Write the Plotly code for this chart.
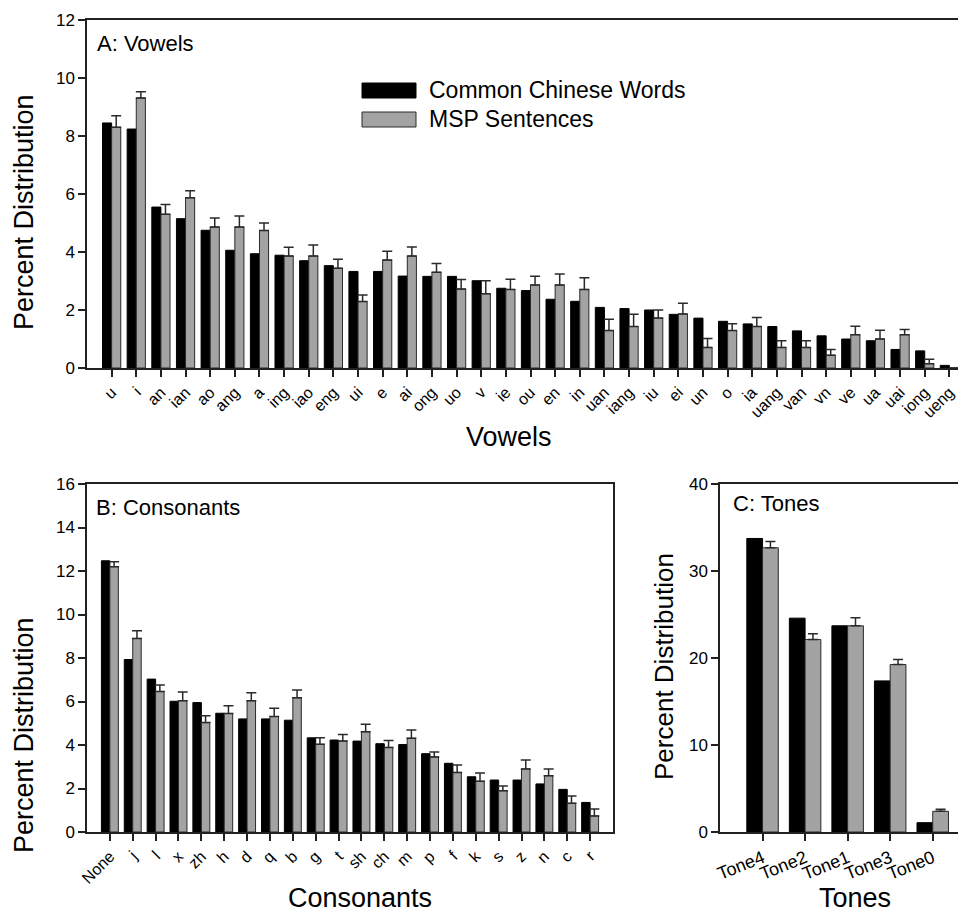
import plotly.graph_objects as go

# ---------------- data ----------------
vowels = ["u", "i", "an", "ian", "ao", "ang", "a", "ing", "iao", "eng", "ui", "e", "ai", "ong", "uo",
          "v", "ie", "ou", "en", "in", "uan", "iang", "iu", "ei", "un", "o", "ia", "uang", "van", "vn",
          "ve", "ua", "uai", "iong", "ueng"]
vowel_common = [8.45, 8.24, 5.55, 5.15, 4.75, 4.06, 3.94, 3.89, 3.70, 3.53, 3.33, 3.33, 3.17, 3.16, 3.16,
                3.01, 2.75, 2.67, 2.37, 2.30, 2.09, 2.05, 2.00, 1.85, 1.72, 1.61, 1.52, 1.43, 1.28, 1.11,
                1.00, 0.94, 0.64, 0.59, 0.09]
vowel_msp = [8.30, 9.31, 5.30, 5.87, 4.86, 4.86, 4.74, 3.86, 3.86, 3.44, 2.29, 3.72, 3.86, 3.30, 2.72,
             2.56, 2.71, 2.86, 2.86, 2.71, 1.29, 1.43, 1.72, 1.86, 0.71, 1.29, 1.43, 0.71, 0.71, 0.44,
             1.15, 1.00, 1.15, 0.15, 0.0]
vowel_msp_err = [0.40, 0.22, 0.34, 0.24, 0.31, 0.38, 0.26, 0.30, 0.38, 0.31, 0.23, 0.31, 0.31, 0.30, 0.33,
                 0.45, 0.35, 0.30, 0.38, 0.40, 0.39, 0.42, 0.28, 0.37, 0.31, 0.24, 0.31, 0.23, 0.23, 0.20,
                 0.29, 0.30, 0.18, 0.15, 0.0]

consonants = ["None", "j", "l", "x", "zh", "h", "d", "q", "b", "g", "t", "sh", "ch", "m", "p", "f",
              "k", "s", "z", "n", "c", "r"]
cons_common = [12.47, 7.93, 7.03, 6.01, 5.95, 5.46, 5.20, 5.20, 5.14, 4.33, 4.23, 4.18, 4.06, 4.02,
               3.60, 3.16, 2.54, 2.39, 2.39, 2.21, 1.96, 1.36]
cons_msp = [12.20, 8.90, 6.46, 6.04, 5.03, 5.45, 6.04, 5.31, 6.17, 4.03, 4.18, 4.61, 3.89, 4.31,
            3.45, 2.74, 2.33, 1.90, 2.90, 2.59, 1.32, 0.74]
cons_msp_err = [0.23, 0.35, 0.30, 0.40, 0.32, 0.36, 0.36, 0.38, 0.36, 0.30, 0.30, 0.34, 0.32, 0.38,
                0.23, 0.34, 0.38, 0.21, 0.41, 0.31, 0.34, 0.32]

tones = ["Tone4", "Tone2", "Tone1", "Tone3", "Tone0"]
tone_common = [33.74, 24.58, 23.70, 17.37, 1.07]
tone_msp = [32.67, 22.12, 23.70, 19.25, 2.38]
tone_msp_err = [0.73, 0.66, 0.92, 0.57, 0.23]

legend_labels = ["Common Chinese Words", "MSP Sentences"]

# ---------------- style ----------------
W, H = 966, 915
OFF = 8  # page body margin offsets the figure by this many pixels
FONT = "Arial, Liberation Sans, sans-serif"
BLACK = "#000000"
GREY = "#a3a3a3"
EDGE = "#2a2a2a"
AX = "#222222"


def px_x(p):
    return (p - OFF) / W


def px_y(p):
    return 1 - (p - OFF) / H


fig = go.Figure()


def add_pair(cats, common, msp, err, xa, ya):
    fig.add_trace(go.Bar(x=cats, y=common, marker=dict(color=BLACK, line=dict(color=BLACK, width=1)),
                         xaxis=xa, yaxis=ya, showlegend=False, name=legend_labels[0]))
    fig.add_trace(go.Bar(x=cats, y=msp, marker=dict(color=GREY, line=dict(color=EDGE, width=1)),
                         error_y=dict(type="data", symmetric=False, array=err,
                                      arrayminus=[0] * len(err), color=EDGE, thickness=1.5, width=5),
                         xaxis=xa, yaxis=ya, showlegend=False, name=legend_labels[1]))


add_pair(vowels, vowel_common, vowel_msp, vowel_msp_err, "x", "y")
add_pair(consonants, cons_common, cons_msp, cons_msp_err, "x2", "y2")
add_pair(tones, tone_common, tone_msp, tone_msp_err, "x3", "y3")

axis_common = dict(showline=True, linecolor=AX, linewidth=1.5, ticks="outside", ticklen=7,
                   tickwidth=1.5, tickcolor=AX, showgrid=False, zeroline=False, automargin=False,
                   tickfont=dict(family=FONT, size=17, color="black"))
xtick_font = dict(family=FONT, size=16, color="black")

fig.update_layout(
    width=W, height=H, margin=dict(l=0, r=0, t=0, b=0, pad=0), autosize=False,
    paper_bgcolor="white", plot_bgcolor="white",
    barmode="group", bargap=0.26, bargroupgap=0,
    font=dict(family=FONT, color="black"),
    xaxis=dict(axis_common, domain=[px_x(87), 1.0], anchor="y", type="category",
               categoryorder="array", categoryarray=vowels, range=[-1, 35.0],
               tickangle=-45, mirror=True, tickfont=xtick_font),
    yaxis=dict(axis_common, domain=[px_y(368), px_y(20)], anchor="x", range=[0, 12], dtick=2,
               mirror=False),
    xaxis2=dict(axis_common, domain=[px_x(87), px_x(613)], anchor="y2", type="category",
                categoryorder="array", categoryarray=consonants, range=[-1, 22],
                tickangle=-45, mirror=True, tickfont=xtick_font),
    yaxis2=dict(axis_common, domain=[px_y(832), px_y(484)], anchor="x2", range=[0, 16], dtick=2,
                mirror=True),
    xaxis3=dict(axis_common, domain=[px_x(720), 1.0], anchor="y3", type="category",
                categoryorder="array", categoryarray=tones, range=[-1, 4.97],
                tickangle=-22, mirror=True, tickfont=dict(family=FONT, size=18, color="black")),
    yaxis3=dict(axis_common, domain=[px_y(832), px_y(484)], anchor="x3", range=[0, 40], dtick=10,
                mirror=False),
)

ann = []


def text(x, y, s, size, angle=0, xanchor="center"):
    ann.append(dict(x=px_x(x), y=px_y(y), xref="paper", yref="paper", text=s, showarrow=False,
                    textangle=angle, xanchor=xanchor, yanchor="middle",
                    font=dict(family=FONT, size=size, color="black")))


# panel labels
text(95, 44, "A: Vowels", 22, xanchor="left")
text(94, 507, "B: Consonants", 22, xanchor="left")
text(731, 504, "C: Tones", 22, xanchor="left")
# axis titles
text(509, 437, "Vowels", 27)
text(360, 898, "Consonants", 27)
text(855, 898, "Tones", 27)
text(24, 212, "Percent Distribution", 27, angle=-90)
text(24, 735, "Percent Distribution", 27, angle=-90)
text(664, 667, "Percent Distribution", 26, angle=-90)
# legend text
text(427, 90, legend_labels[0], 23, xanchor="left")
text(427, 119, legend_labels[1], 23, xanchor="left")

fig.update_layout(annotations=ann)

# legend swatches
fig.add_shape(type="rect", xref="paper", yref="paper", x0=px_x(362), x1=px_x(416),
              y0=px_y(98), y1=px_y(83), fillcolor=BLACK, line=dict(color=BLACK, width=1))
fig.add_shape(type="rect", xref="paper", yref="paper", x0=px_x(362), x1=px_x(416),
              y0=px_y(127), y1=px_y(112), fillcolor=GREY, line=dict(color=EDGE, width=1))

fig.write_html("out.html")
